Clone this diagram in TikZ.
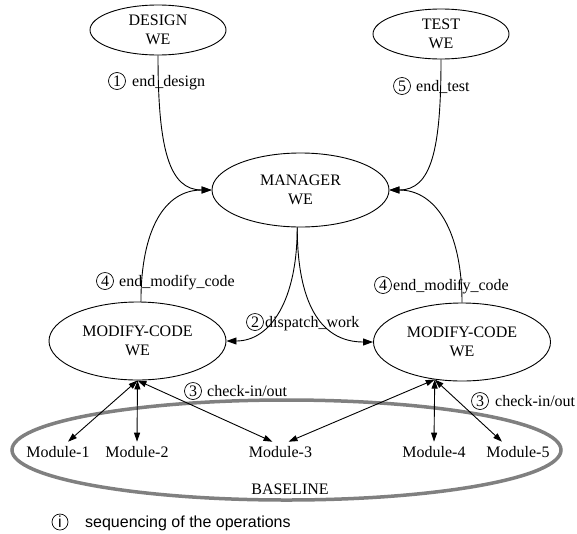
\documentclass[tikz,border=0pt]{standalone}
\usepackage{fontspec}
\setmainfont{Liberation Serif}
\setsansfont{Liberation Sans}
\usetikzlibrary{arrows.meta,shapes.geometric,positioning}

\begin{document}
\begin{tikzpicture}[x=1pt, y=-1pt, font=\fontsize{16}{19}\selectfont,
  we/.style={ellipse, draw, line width=0.9pt, inner sep=0pt, align=center},
  edge/.style={line width=0.9pt, -{Triangle[length=10pt,width=7pt]}},
  twoway/.style={line width=0.9pt, {Triangle[length=9pt,width=6pt]}-{Triangle[length=9pt,width=6pt]}},
  num/.style={circle, draw, line width=0.7pt, inner sep=0pt, minimum size=17pt},
  lbl/.style={anchor=base west, inner sep=0pt},
  module/.style={anchor=base, inner sep=4pt}]

\useasboundingbox (0,0) rectangle (577,533);
%\draw[help lines, color=gray!30, dashed] (0,0) grid[step=50] (577,533);

\node[we, minimum width=136, minimum height=50] (design) at (158,30) {DESIGN\\WE};
\node[we, minimum width=136, minimum height=50] (test) at (441,34) {TEST\\WE};
\node[we, minimum width=177, minimum height=74] (manager) at (300.5,190) {MANAGER\\WE};
\node[we, minimum width=177, minimum height=78] (mcl) at (137.5,341) {MODIFY-CODE\\WE};
\node[we, minimum width=177, minimum height=78] (mcr) at (462,342) {MODIFY-CODE\\WE};

\node[ellipse, draw=black!50, line width=3.5pt, minimum width=549, minimum height=100] (base) at (286.5,450) {};
\node[anchor=base] (basetxt) at (290,494) {BASELINE};

\node[module] (mod1) at (58,457) {Module-1};
\node[module] (mod2) at (137,457) {Module-2};
\node[module] (mod3) at (280.5,457) {Module-3};
\node[module] (mod4) at (434,457) {Module-4};
\node[module] (mod5) at (518,457) {Module-5};

\draw[edge] (design.south) .. controls +(0,95) and +(-42,0) .. (manager.west);
\draw[edge] (test.south) .. controls +(0,90) and +(42,0) .. (manager.east);
\draw[edge] (mcl.85) .. controls +(0,-72) and +(-47,0) .. (manager.west);
\draw[edge] (mcr.north) .. controls +(0,-72) and +(46,0) .. (manager.east);
\draw[edge] (manager.265) .. controls +(0,73) and +(44,0) .. (mcl.east);
\draw[edge] (manager.265) .. controls +(0,73) and +(-54,0) .. (mcr.west);

\draw[twoway] (mcl.south) -- ([xshift=10pt]mod1.north);
\draw[twoway] (mcl.south) -- (mod2.north);
\draw[twoway] (mcl.south) -- ([xshift=-8pt]mod3.north);
\draw[twoway] (mcr.234) -- ([xshift=8pt]mod3.north);
\draw[twoway] (mcr.234) -- (mod4.north);
\draw[twoway] (mcr.234) -- ([xshift=-16pt]mod5.north);

\node[num] (n1) at (117,81) {1};
\node[lbl] (t1) at (132,86) {end\_design};
\node[num] (n5) at (402,86) {5};
\node[lbl] (t5) at (416,91) {end\_test};
\node[num] (n4l) at (105,281) {4};
\node[lbl] (t4l) at (119,286) {end\_modify\_code};
\node[num] (n4r) at (383,285) {4};
\node[lbl] (t4r) at (393,290) {end\_modify\_code};
\node[num] (n2) at (255,322) {2};
\node[lbl] (t2) at (265,327) {dispatch\_work};
\node[num] (n3l) at (193,391) {3};
\node[lbl] (t3l) at (207,396) {check-in/out};
\node[num] (n3r) at (480,401) {3};
\node[lbl] (t3r) at (495,406) {check-in/out};

\node[num, minimum size=16pt, font=\fontsize{16}{19}\sffamily] (ni) at (60,522) {i};
\node[lbl, font=\fontsize{16}{19}\sffamily] (legend) at (85,527) {sequencing of the operations};
\end{tikzpicture}
\end{document}
